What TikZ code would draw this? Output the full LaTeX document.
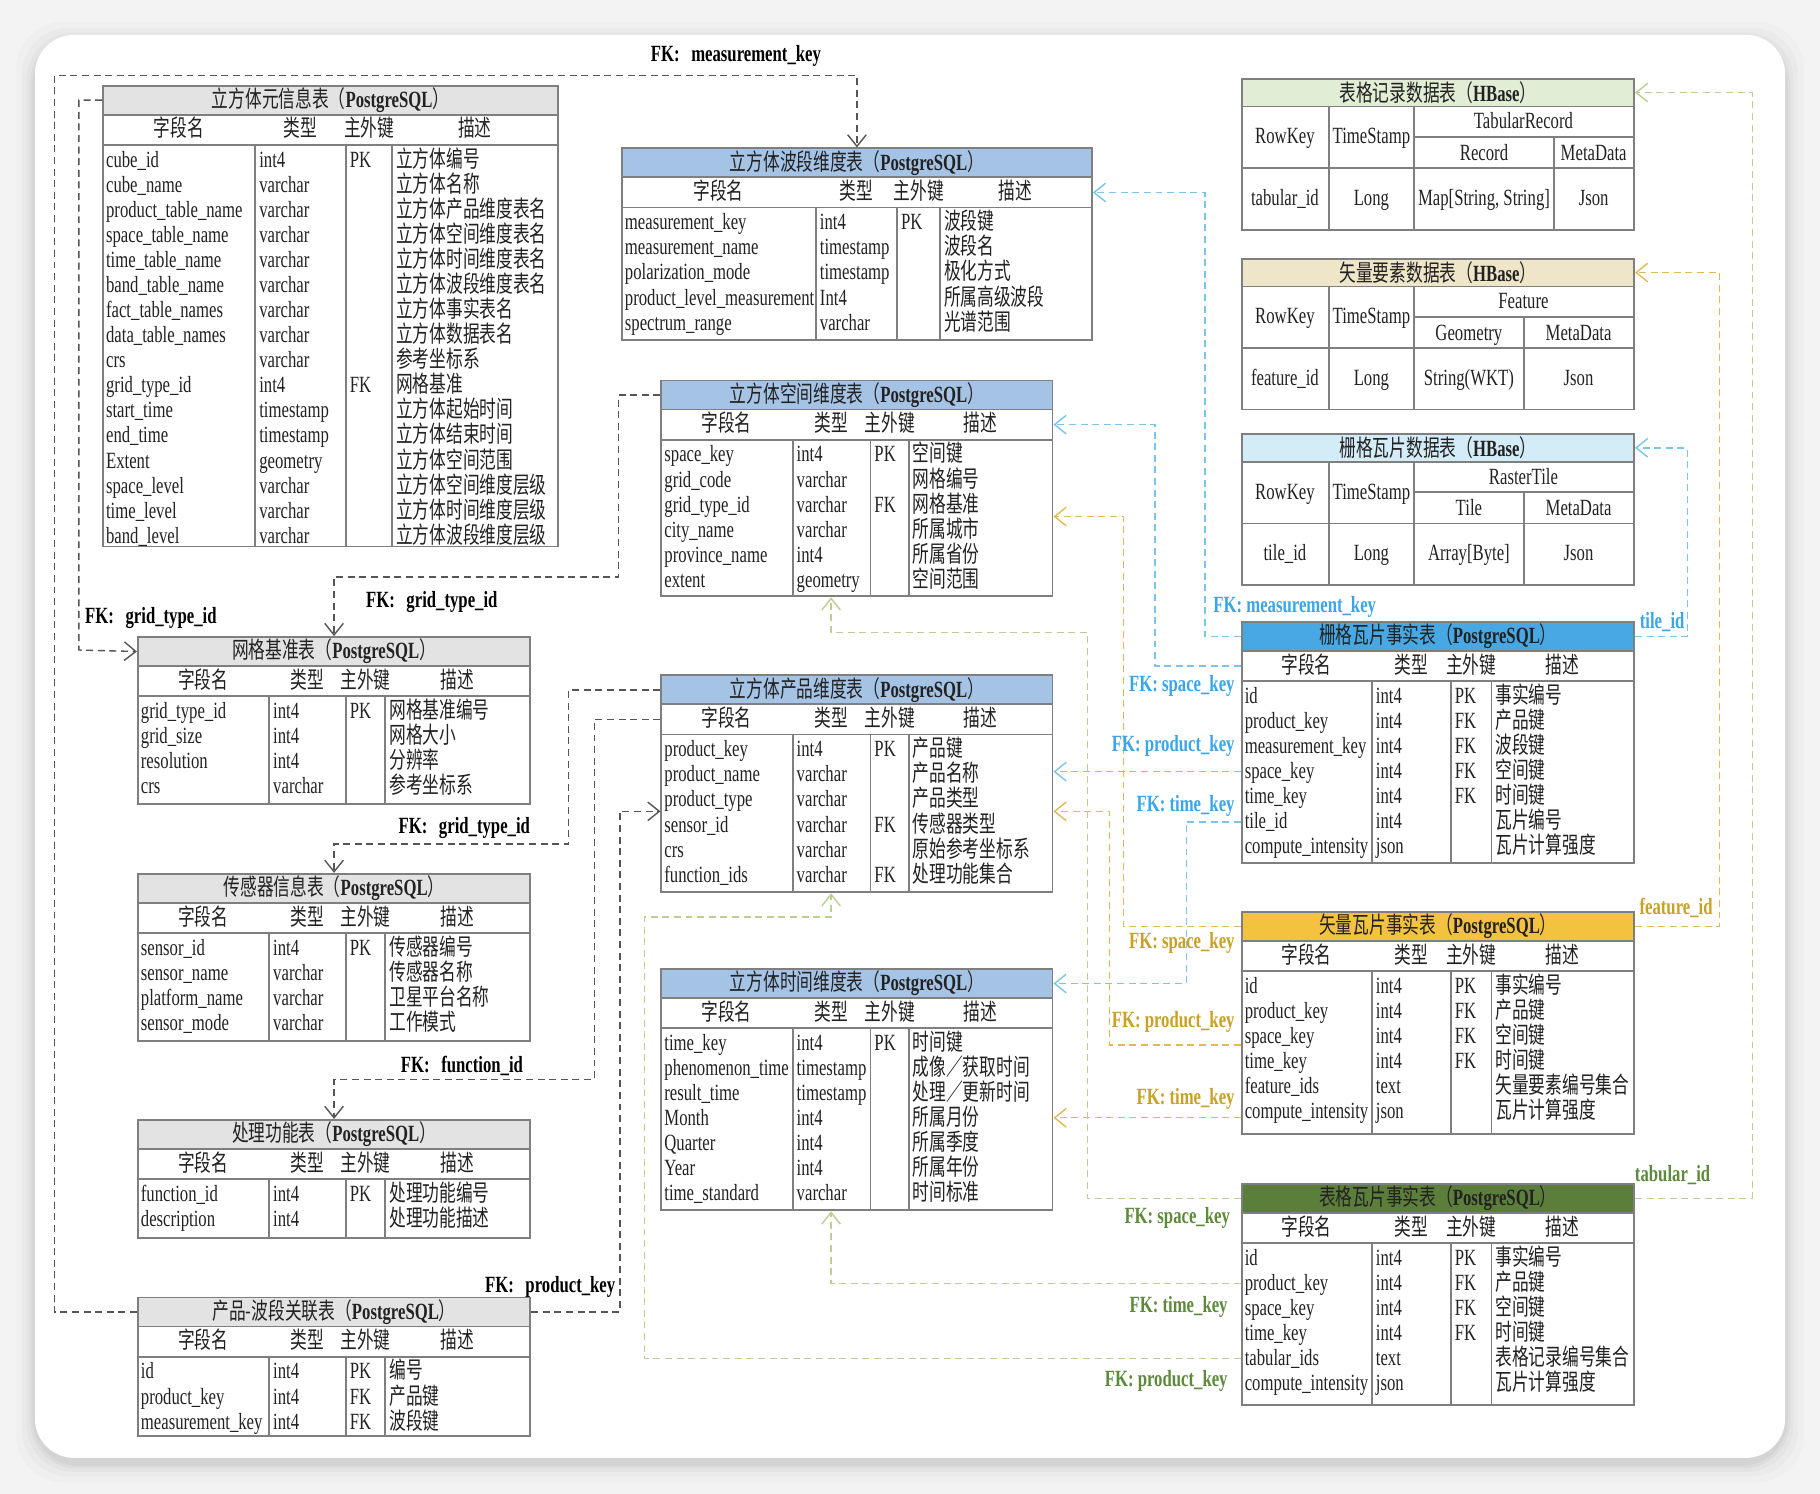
\documentclass[tikz,border=0pt]{standalone}
\usepackage{fontspec}
\setmainfont{Liberation Serif}[FakeStretch=0.72]
\newfontfamily\cjkf{Noto Sans CJK SC}[FakeStretch=0.72]
\usetikzlibrary{arrows.meta}
\newcommand\zht[1]{{\cjkf #1}}
\newcommand\tabfs{\fontsize{10pt}{12pt}\selectfont}
\newcommand\pgt[1]{\zht{#1（}\textbf{PostgreSQL}\zht{）}}
\newcommand\hbt[1]{\zht{#1（}\textbf{HBase}\zht{）}}
\definecolor{tabline}{HTML}{7F7F7F}
\definecolor{grayhd}{HTML}{E3E3E3}
\definecolor{bluehd}{HTML}{A5C3E5}
\definecolor{hbgreen}{HTML}{E2EDD6}
\definecolor{hbtan}{HTML}{EFE5C8}
\definecolor{hbblue}{HTML}{D4ECF8}
\definecolor{facblue}{HTML}{48A8E4}
\definecolor{facgold}{HTML}{F3C23F}
\definecolor{facgreen}{HTML}{5B7E3B}
\definecolor{lnblue}{HTML}{7AC5EA}
\definecolor{lngold}{HTML}{E2BA55}
\definecolor{lngreen}{HTML}{BCCF92}
\definecolor{txblue}{HTML}{3AA6E8}
\definecolor{txgold}{HTML}{C9A125}
\definecolor{txgreen}{HTML}{5E8A3C}
\definecolor{lngray}{HTML}{555555}
\definecolor{bgc}{HTML}{F3F3F3}
\definecolor{ink}{HTML}{222222}
\tikzset{
 tb/.style={draw=tabline, line width=0.8pt},
 cell/.style={inner sep=0pt, anchor=base west, text=ink},
 hd/.style={inner sep=0pt, anchor=base, text=ink},
 fkline/.style={dash pattern=on 3pt off 2pt, line width=0.6pt, -{Straight Barb[length=5pt,width=8pt]}},
 fkgray/.style={fkline, draw=lngray},
 fkblue/.style={fkline, draw=lnblue},
 fkgold/.style={fkline, draw=lngold},
 fkgreen/.style={fkline, draw=lngreen},
 lab/.style={inner sep=0pt, font=\tabfs\bfseries},
}
% table geometry
\newcommand\tabgeom[5]{\def\TXa{#1}\def\TXb{#2}\def\TXc{#3}\def\TXd{#4}\def\TXe{#5}}
\newcommand\tabbox[5]{%
  \pgfmathsetmacro\TBw{(\TXe-\TXa)*0.5}%
  \pgfmathsetmacro\TByh{#2+25}%
  \pgfmathsetmacro\TByb{#2+51}%
  \pgfmathsetmacro\TBbh{(#3-#2-51)*0.5}%
  \pgfmathsetmacro\TBhy{#2+45}%
  \edef\TBrb{\TByb}%
  \node[tb, fill=#4, minimum width=\TBw pt, minimum height=12.5pt, inner sep=0pt, anchor=north west, text=ink] (#1) at (\TXa,#2) {#5};
  \node[tb, fill=white, minimum width=\TBw pt, minimum height=13pt, inner sep=0pt, anchor=north west] (#1h) at (\TXa,\TByh) {};
  \node[tb, fill=white, minimum width=\TBw pt, minimum height=\TBbh pt, inner sep=0pt, anchor=north west] (#1b) at (\TXa,\TByb) {};
  \draw[tb] (\TXb,\TByb) -- (\TXb,#3) (\TXc,\TByb) -- (\TXc,#3) (\TXd,\TByb) -- (\TXd,#3);
  \node[hd] (#1-h1) at ({(\TXa+\TXb)/2},\TBhy) {\zht{字段名}};
  \node[hd] (#1-h2) at ({(\TXb+\TXc)/2},\TBhy) {\zht{类型}};
  \node[hd] (#1-h3) at ({(\TXc+\TXd)/2},\TBhy) {\zht{主外键}};
  \node[hd] (#1-h4) at ({(\TXd+\TXe)/2},\TBhy) {\zht{描述}};
}
\newcommand\trow[6]{%
  \pgfmathsetmacro\TBry{\TBrb+14+(#2-1)*21.6}%
  \coordinate (#1-r#2) at (\TXa,\TBry);
  \coordinate (#1-r#2E) at (\TXe,\TBry);
  \node[cell] (#1-f#2) at (\TXa+3,\TBry+6) {#3};
  \node[cell] (#1-t#2) at (\TXb+3,\TBry+6) {#4};
  \node[cell] (#1-k#2) at (\TXc+3,\TBry+6) {#5};
  \node[cell] (#1-d#2) at (\TXd+3,\TBry+6) {\zht{#6}};
}
\newcommand\hbframe[5]{%
  \pgfmathsetmacro\HBa{#2+24}\pgfmathsetmacro\HBb{#2+51}%
  \pgfmathsetmacro\HBc{#2+78}\pgfmathsetmacro\HBd{#2+130}%
  \edef\HBy{#2}%
  \node[tb, fill=#3, minimum width=169pt, minimum height=12pt, inner sep=0pt, anchor=north west, text=ink] (#1) at (1069,#2) {#4};
  \node[tb, fill=white, minimum width=169pt, minimum height=53pt, inner sep=0pt, anchor=north west] (#1b) at (1069,\HBa) {};
  \draw[tb] (1145,\HBa) -- (1145,\HBd) (1218,\HBa) -- (1218,\HBd) (#5,\HBb) -- (#5,\HBd)
            (1218,\HBb) -- (1407,\HBb) (1069,\HBc) -- (1407,\HBc);
}
\newcommand\hbtext[9]{%
  \node[hd] (#1-rk) at (1107,\HBy+57) {RowKey};
  \node[hd] (#1-ts) at (1181.5,\HBy+57) {TimeStamp};
  \node[hd] (#1-g) at (1312.5,\HBy+44) {#2};
  \node[hd] (#1-s1) at ({(1218+#9)/2},\HBy+71) {#3};
  \node[hd] (#1-s2) at ({(#9+1407)/2},\HBy+71) {#4};
  \node[hd] (#1-d1) at (1107,\HBy+110) {#5};
  \node[hd] (#1-d2) at (1181.5,\HBy+110) {#6};
  \node[hd] (#1-d3) at ({(1218+#9)/2},\HBy+110) {#7};
  \node[hd] (#1-d4) at ({(#9+1407)/2},\HBy+110) {#8};
}
\begin{document}
\begin{tikzpicture}[x=0.5pt,y=-0.5pt, every node/.style={font=\tabfs}]
\useasboundingbox (0,0) rectangle (1568,1287);
\fill[bgc] (0,0) rectangle (1568,1287);
\foreach \s/\o in {16/0.015,11/0.02,7/0.025,4/0.03,2/0.035}
  \fill[black,opacity=\o,rounded corners=20pt] (30-\s,30-\s+5) rectangle (1538+\s,1256+\s+5);
\fill[white,rounded corners=17pt] (30,30) rectangle (1538,1256);

% ---------- T1
\tabgeom{88}{220}{298}{338}{480}
\tabbox{t1}{73}{470}{grayhd}{\pgt{立方体元信息表}}
\trow{t1}{1}{cube\_id}{int4}{PK}{立方体编号}
\trow{t1}{2}{cube\_name}{varchar}{}{立方体名称}
\trow{t1}{3}{product\_table\_name}{varchar}{}{立方体产品维度表名}
\trow{t1}{4}{space\_table\_name}{varchar}{}{立方体空间维度表名}
\trow{t1}{5}{time\_table\_name}{varchar}{}{立方体时间维度表名}
\trow{t1}{6}{band\_table\_name}{varchar}{}{立方体波段维度表名}
\trow{t1}{7}{fact\_table\_names}{varchar}{}{立方体事实表名}
\trow{t1}{8}{data\_table\_names}{varchar}{}{立方体数据表名}
\trow{t1}{9}{crs}{varchar}{}{参考坐标系}
\trow{t1}{10}{grid\_type\_id}{int4}{FK}{网格基准}
\trow{t1}{11}{start\_time}{timestamp}{}{立方体起始时间}
\trow{t1}{12}{end\_time}{timestamp}{}{立方体结束时间}
\trow{t1}{13}{Extent}{geometry}{}{立方体空间范围}
\trow{t1}{14}{space\_level}{varchar}{}{立方体空间维度层级}
\trow{t1}{15}{time\_level}{varchar}{}{立方体时间维度层级}
\trow{t1}{16}{band\_level}{varchar}{}{立方体波段维度层级}

% ---------- T2
\tabgeom{535}{703}{773}{810}{940}
\tabbox{t2}{127}{292}{bluehd}{\pgt{立方体波段维度表}}
\trow{t2}{1}{measurement\_key}{int4}{PK}{波段键}
\trow{t2}{2}{measurement\_name}{timestamp}{}{波段名}
\trow{t2}{3}{polarization\_mode}{timestamp}{}{极化方式}
\trow{t2}{4}{product\_level\_measurement}{Int4}{}{所属高级波段}
\trow{t2}{5}{spectrum\_range}{varchar}{}{光谱范围}

% ---------- T3
\tabgeom{569}{683}{750}{783}{906}
\tabbox{t3}{327}{513}{bluehd}{\pgt{立方体空间维度表}}
\trow{t3}{1}{space\_key}{int4}{PK}{空间键}
\trow{t3}{2}{grid\_code}{varchar}{}{网格编号}
\trow{t3}{3}{grid\_type\_id}{varchar}{FK}{网格基准}
\trow{t3}{4}{city\_name}{varchar}{}{所属城市}
\trow{t3}{5}{province\_name}{int4}{}{所属省份}
\trow{t3}{6}{extent}{geometry}{}{空间范围}

% ---------- T8
\tabbox{t8}{581}{768}{bluehd}{\pgt{立方体产品维度表}}
\trow{t8}{1}{product\_key}{int4}{PK}{产品键}
\trow{t8}{2}{product\_name}{varchar}{}{产品名称}
\trow{t8}{3}{product\_type}{varchar}{}{产品类型}
\trow{t8}{4}{sensor\_id}{varchar}{FK}{传感器类型}
\trow{t8}{5}{crs}{varchar}{}{原始参考坐标系}
\trow{t8}{6}{function\_ids}{varchar}{FK}{处理功能集合}

% ---------- T9
\tabbox{t9}{834}{1042}{bluehd}{\pgt{立方体时间维度表}}
\trow{t9}{1}{time\_key}{int4}{PK}{时间键}
\trow{t9}{2}{phenomenon\_time}{timestamp}{}{成像／获取时间}
\trow{t9}{3}{result\_time}{timestamp}{}{处理／更新时间}
\trow{t9}{4}{Month}{int4}{}{所属月份}
\trow{t9}{5}{Quarter}{int4}{}{所属季度}
\trow{t9}{6}{Year}{int4}{}{所属年份}
\trow{t9}{7}{time\_standard}{varchar}{}{时间标准}

% ---------- T4..T7
\tabgeom{118}{232}{298}{332}{456}
\tabbox{t4}{548}{692}{grayhd}{\pgt{网格基准表}}
\trow{t4}{1}{grid\_type\_id}{int4}{PK}{网格基准编号}
\trow{t4}{2}{grid\_size}{int4}{}{网格大小}
\trow{t4}{3}{resolution}{int4}{}{分辨率}
\trow{t4}{4}{crs}{varchar}{}{参考坐标系}

\tabbox{t5}{752}{896}{grayhd}{\pgt{传感器信息表}}
\trow{t5}{1}{sensor\_id}{int4}{PK}{传感器编号}
\trow{t5}{2}{sensor\_name}{varchar}{}{传感器名称}
\trow{t5}{3}{platform\_name}{varchar}{}{卫星平台名称}
\trow{t5}{4}{sensor\_mode}{varchar}{}{工作模式}

\tabbox{t6}{964}{1066}{grayhd}{\pgt{处理功能表}}
\trow{t6}{1}{function\_id}{int4}{PK}{处理功能编号}
\trow{t6}{2}{description}{int4}{}{处理功能描述}

\tabbox{t7}{1117}{1236}{grayhd}{\pgt{产品-波段关联表}}
\trow{t7}{1}{id}{int4}{PK}{编号}
\trow{t7}{2}{product\_key}{int4}{FK}{产品键}
\trow{t7}{3}{measurement\_key}{int4}{FK}{波段键}

% ---------- fact tables
\tabgeom{1069}{1182}{1250}{1285}{1407}
\tabbox{t13}{535}{743}{facblue}{\pgt{栅格瓦片事实表}}
\trow{t13}{1}{id}{int4}{PK}{事实编号}
\trow{t13}{2}{product\_key}{int4}{FK}{产品键}
\trow{t13}{3}{measurement\_key}{int4}{FK}{波段键}
\trow{t13}{4}{space\_key}{int4}{FK}{空间键}
\trow{t13}{5}{time\_key}{int4}{FK}{时间键}
\trow{t13}{6}{tile\_id}{int4}{}{瓦片编号}
\trow{t13}{7}{compute\_intensity}{json}{}{瓦片计算强度}

\tabbox{t14}{785}{976}{facgold}{\pgt{矢量瓦片事实表}}
\trow{t14}{1}{id}{int4}{PK}{事实编号}
\trow{t14}{2}{product\_key}{int4}{FK}{产品键}
\trow{t14}{3}{space\_key}{int4}{FK}{空间键}
\trow{t14}{4}{time\_key}{int4}{FK}{时间键}
\trow{t14}{5}{feature\_ids}{text}{}{矢量要素编号集合}
\trow{t14}{6}{compute\_intensity}{json}{}{瓦片计算强度}

\tabbox{t15}{1019}{1210}{facgreen}{\pgt{表格瓦片事实表}}
\trow{t15}{1}{id}{int4}{PK}{事实编号}
\trow{t15}{2}{product\_key}{int4}{FK}{产品键}
\trow{t15}{3}{space\_key}{int4}{FK}{空间键}
\trow{t15}{4}{time\_key}{int4}{FK}{时间键}
\trow{t15}{5}{tabular\_ids}{text}{}{表格记录编号集合}
\trow{t15}{6}{compute\_intensity}{json}{}{瓦片计算强度}

% ---------- HBase tables
\hbframe{t10}{67}{hbgreen}{\hbt{表格记录数据表}}{1339}
\hbtext{t10}{TabularRecord}{Record}{MetaData}{tabular\_id}{Long}{Map[String, String]}{Json}{1339}
\hbframe{t11}{222}{hbtan}{\hbt{矢量要素数据表}}{1313}
\hbtext{t11}{Feature}{Geometry}{MetaData}{feature\_id}{Long}{String(WKT)}{Json}{1313}
\hbframe{t12}{373}{hbblue}{\hbt{栅格瓦片数据表}}{1313}
\hbtext{t12}{RasterTile}{Tile}{MetaData}{tile\_id}{Long}{Array[Byte]}{Json}{1313}

% ---------- gray connectors
\coordinate (c1a) at (47,65);
\draw[fkgray] (t7.west) -| (c1a) -| (t2.north);
\coordinate (c2a) at (68,560);
\draw[fkgray] (t1.west) -| (c2a) -- (t4.west);
\coordinate (c3a) at (533,497);
\draw[fkgray] (t3.west) -| (c3a) -| (t4.north);
\coordinate (c4a) at (490,727);
\draw[fkgray] (t8.west) -| (c4a) -| (t5.north);
\coordinate (c5a) at (512,930);
\draw[fkgray] (t8h.west) -| (c5a) -| (t6.north);
\coordinate (c6a) at (534,699);
\draw[fkgray] (t7.east) -| (c6a) -- (t8b.west |- c6a);

% ---------- blue connectors
\draw[fkblue] (t13.west) -- ++(-31,0) |- (t2h.east);
\draw[fkblue] (t13h.west) -- ++(-74,0) |- (t3h.east);
\draw[fkblue] (t13-r4) -- (t8b.east |- t13-r4);
\draw[fkblue] (t13-r6) -- ++(-47,0) |- (t9.east);
\draw[fkblue] (t13.east) -- ++(45,0) |- (t12.east);

% ---------- gold connectors
\coordinate (g1a) at (968,445);
\draw[fkgold] (t14.west) -| (g1a) -- (t3b.east |- g1a);
\coordinate (g2s) at ([yshift=-3.5pt]t14-r3);
\coordinate (g2a) at (956,699);
\draw[fkgold] (g2s) -| (g2a) -- (t8b.east |- g2a);
\coordinate (g3s) at ([yshift=-2.5pt]t14-r6);
\draw[fkgold] (g3s) -- (t9b.east |- g3s);
\draw[fkgold] (t14.east) -- ++(73,0) |- (t11.east);

% ---------- green connectors
\coordinate (n1a) at (937,545);
\coordinate (n1b) at (716,545);
\draw[fkgreen] (t15.west) -| (n1a) -- (n1b) -- (n1b |- t3b.south);
\draw[fkgreen] (t15-r2) -| (t9b.south -| n1b);
\coordinate (n3a) at (555,790);
\draw[fkgreen] (t15-r5) -| (n3a) -| (t8b.south -| n1b);
\draw[fkgreen] (t15.east) -- ++(101,0) |- (t10.east);

% ---------- labels
\node[lab] (lb1) at (634,48) {FK:\hspace{0.5em}measurement\_key};
\node[lab] (lb2) at (130,532) {FK:\hspace{0.5em}grid\_type\_id};
\node[lab] (lb3) at (372,519) {FK:\hspace{0.5em}grid\_type\_id};
\node[lab] (lb4) at (400,713) {FK:\hspace{0.5em}grid\_type\_id};
\node[lab] (lb5) at (398,918) {FK:\hspace{0.5em}function\_id};
\node[lab] (lb6) at (474,1109) {FK:\hspace{0.5em}product\_key};

\node[lab, text=txblue, anchor=west] (lbb1) at (1045,523) {FK: measurement\_key};
\node[lab, text=txblue, anchor=east] (lbb2) at (1064,591) {FK: space\_key};
\node[lab, text=txblue, anchor=east] (lbb3) at (1064,643) {FK: product\_key};
\node[lab, text=txblue, anchor=east] (lbb4) at (1064,694) {FK: time\_key};
\node[lab, text=txblue] (lbb5) at (1432,536) {tile\_id};

\node[lab, text=txgold, anchor=east] (lbg1) at (1064,812) {FK: space\_key};
\node[lab, text=txgold, anchor=east] (lbg2) at (1064,880) {FK: product\_key};
\node[lab, text=txgold, anchor=east] (lbg3) at (1064,947) {FK: time\_key};
\node[lab, text=txgold] (lbg4) at (1444,782) {feature\_id};

\node[lab, text=txgreen, anchor=east] (lbn1) at (1060,1049) {FK: space\_key};
\node[lab, text=txgreen, anchor=east] (lbn2) at (1058,1126) {FK: time\_key};
\node[lab, text=txgreen, anchor=east] (lbn3) at (1058,1190) {FK: product\_key};
\node[lab, text=txgreen] (lbn4) at (1441,1012) {tabular\_id};
\end{tikzpicture}
\end{document}
